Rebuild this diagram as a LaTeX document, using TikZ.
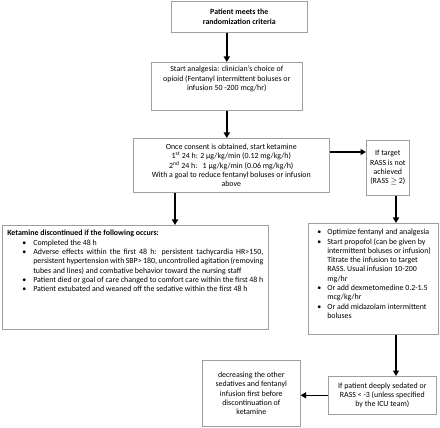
\documentclass[tikz,border=0pt]{standalone}
\usepackage{fontspec}
\setmainfont{Carlito}
\usetikzlibrary{arrows.meta}
\definecolor{boxgray}{gray}{0.62}
\newcommand\fs{\fontsize{7.9pt}{9.3pt}\selectfont}
\newcommand\nl{\hfil\break}
\newcommand\bitemA[1]{\par\noindent\hangindent=26pt\hangafter=1\hspace*{15pt}\makebox[11pt][l]{\textbullet}#1\par}
\newcommand\bitemB[1]{\par\noindent\hangindent=13pt\hangafter=1\hspace*{3pt}\makebox[10pt][l]{\textbullet}#1\par}
\tikzset{
  x=1pt, y=-1pt,
  box/.style={draw=boxgray, line width=0.6pt, fill=white, anchor=north west, inner sep=0pt, font=\fs},
  arr/.style={line width=1.4pt, -{Triangle[length=5.5pt,width=6pt]}},
}
\begin{document}
\begin{tikzpicture}
\useasboundingbox (0,0) rectangle (440,428);
\node[box, minimum width=136pt, minimum height=31pt, align=center, font=\fs\bfseries] (b1) at (171,1)
  {Patient meets the\\randomization criteria};
\node[box, minimum width=151pt, minimum height=48pt] (b2) at (151,62)
  {\begin{minipage}[c][48pt][t]{151pt}\centering\vspace*{4pt}
   Start analgesia: clinician’s choice of\\opioid (Fentanyl intermittent boluses or\\infusion 50 -200 mcg/hr)\end{minipage}};
\node[box, minimum width=196pt, minimum height=54pt, align=center] (b3) at (133,138)
  {Once consent is obtained, start ketamine\\
   1\textsuperscript{st} 24 h: 2 µg/kg/min (0.12 mg/kg/h)\\
   2\textsuperscript{nd} 24 h:\ \ \ 1 µg/kg/min (0.06 mg/kg/h)\\
   With a goal to reduce fentanyl boluses or infusion\\above};
\node[box, minimum width=43pt, minimum height=55pt, align=center] (rass) at (366,140)
  {If target\\RASS is not\\achieved\\(RASS $\geq$ 2)};
\node[box, minimum width=266pt, minimum height=104pt] (b5) at (2,225)
  {\begin{minipage}[c][104pt][t]{266pt}\vspace*{5pt}\hspace*{5pt}\begin{minipage}[t]{256pt}
   \noindent\textbf{Ketamine discontinued if the following occurs:}\par
   \bitemA{Completed the 48 h}
   \bitemA{Adverse effects within the first 48 h: persistent tachycardia HR>150,\linebreak persistent hypertension with SBP> 180, uncontrolled agitation (removing\linebreak tubes and lines) and combative behavior toward the nursing staff}
   \bitemA{Patient died or goal of care changed to comfort care within the first 48 h}
   \bitemA{Patient extubated and weaned off the sedative within the first 48 h}
   \end{minipage}\end{minipage}};
\node[box, minimum width=130pt, minimum height=111pt] (b6) at (308,223)
  {\begin{minipage}[c][111pt][t]{130pt}\vspace*{6pt}\hspace*{6pt}\begin{minipage}[t]{122pt}
   \bitemB{Optimize fentanyl and analgesia}
   \bitemB{Start propofol (can be given by\nl intermittent boluses or infusion)\nl Titrate the infusion to target\nl RASS. Usual infusion 10-200\nl mg/hr}
   \bitemB{Or add dexmetomedine 0.2-1.5\nl mcg/kg/hr}
   \bitemB{Or add midazolam intermittent\nl boluses}
   \end{minipage}\end{minipage}};
\node[box, minimum width=108pt, minimum height=38pt, align=center] (ifp) at (328,376)
  {If patient deeply sedated or\\RASS < -3 (unless specified\\by the ICU team)};
\node[box, minimum width=98pt, minimum height=66pt, align=center] (dec) at (202,360)
  {decreasing the other\\sedatives and fentanyl\\infusion first before\\discontinuation of\\ketamine};
\draw[arr] (b2.north |- b1.south) -- (b2.north);
\draw[arr] (b2.south) -- (b2.south |- b3.north);
\draw[arr] ([xshift=42pt]b3.south west) -- ([xshift=42pt]b3.south west |- b5.north);
\draw[arr] ([yshift=-14pt]b3.north east) -- ([yshift=-14pt]b3.north east -| rass.west);
\draw[arr] ([xshift=30pt]rass.south west) -- ([xshift=30pt]rass.south west |- b6.north);
\draw[arr] ([xshift=30pt]rass.south west |- b6.south) -- ([xshift=30pt]rass.south west |- ifp.north);
\draw[arr] (ifp.west) -- (ifp.west -| dec.east);
\end{tikzpicture}
\end{document}
